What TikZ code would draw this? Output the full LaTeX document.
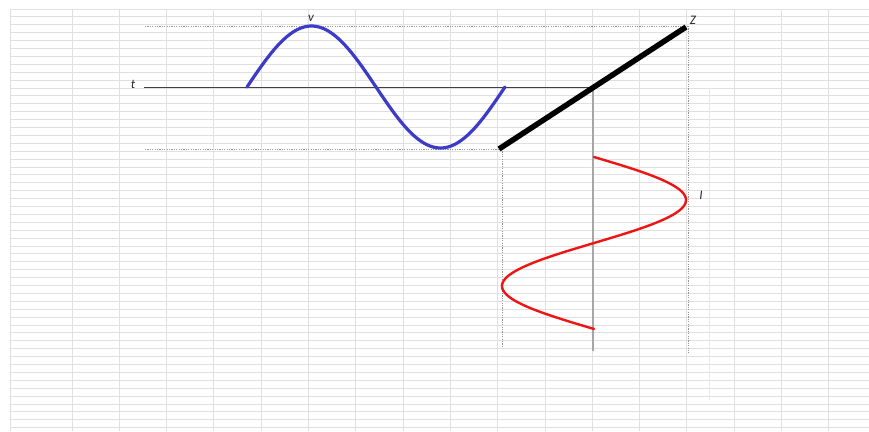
\documentclass[tikz,border=0pt]{standalone}
\usepackage{fontspec}
\setmainfont{Carlito}
\begin{document}
\begin{tikzpicture}[x=1pt,y=-1pt,
  gridline/.style={draw=black!12, line width=0.9pt},
  guide/.style={draw=black!42, line width=0.8pt, dash pattern=on 1.2pt off 1.2pt},
  axisline/.style={draw=black!75, line width=0.9pt},
  vaxis/.style={draw=black!35, line width=1.8pt},
  vwave/.style={draw={rgb,255:red,60;green,60;blue,200}, line width=3.2pt, line cap=round},
  iwave/.style={draw={rgb,255:red,238;green,20;blue,20}, line width=2.4pt, line cap=round},
  zline/.style={draw=black, line width=5.5pt},
  lbl/.style={font=\itshape\fontsize{13}{13}\selectfont, inner sep=0pt, text=black!85}]
\useasboundingbox (0,0) rectangle (869,431);
\fill[white] (0,0) rectangle (869,431);
% spreadsheet grid
\foreach \i in {0,...,53} \draw[gridline] (10,{9+7.9*\i}) -- (869,{9+7.9*\i});
\draw[gridline] (10,9) -- (10,431);
\foreach \i in {0,...,16} \draw[gridline] ({72+47.3*\i},9) -- ({72+47.3*\i},431);
\draw[draw=black!9, line width=0.8pt] (709,88) -- (709,400);
% coordinates
\coordinate (tstart) at (144,87);
\coordinate (tend) at (593,87);
\coordinate (ibot) at (593,351);
\coordinate (ztop) at (686,27);
\coordinate (zbot) at (499,149);
\coordinate (topL) at (145,26);
\coordinate (topR) at (688,26);
\coordinate (botL) at (145,149);
\coordinate (zdrop) at (688,353);
\coordinate (lowdrop) at (502,348);
\coordinate (lowtop) at (502,149);
% guides
\draw[guide] (topL) -- (topR);
\draw[guide] (botL) -- (zbot);
\draw[guide] (lowtop) -- (lowdrop);
\draw[guide] (topR) -- (zdrop);
% axes
\draw[axisline] (tstart) -- (tend);
\draw[vaxis] (tend) -- (ibot);
% waves
\draw[vwave] plot[domain=0:360, samples=120, smooth] ({247+\x/360*258},{87-61*sin(\x)});
\draw[iwave] plot[domain=0:360, samples=120, smooth] ({594+92*sin(\x)},{157+\x/360*172});
% Z line
\draw[zline] (zbot) -- (ztop);
% labels
\node[lbl] (tl) at (133,84) {t};
\node[lbl] (vl) at (311,18) {v};
\node[lbl] (zl) at (693,20) {Z};
\node[lbl] (il) at (701,195) {I};
\end{tikzpicture}
\end{document}
